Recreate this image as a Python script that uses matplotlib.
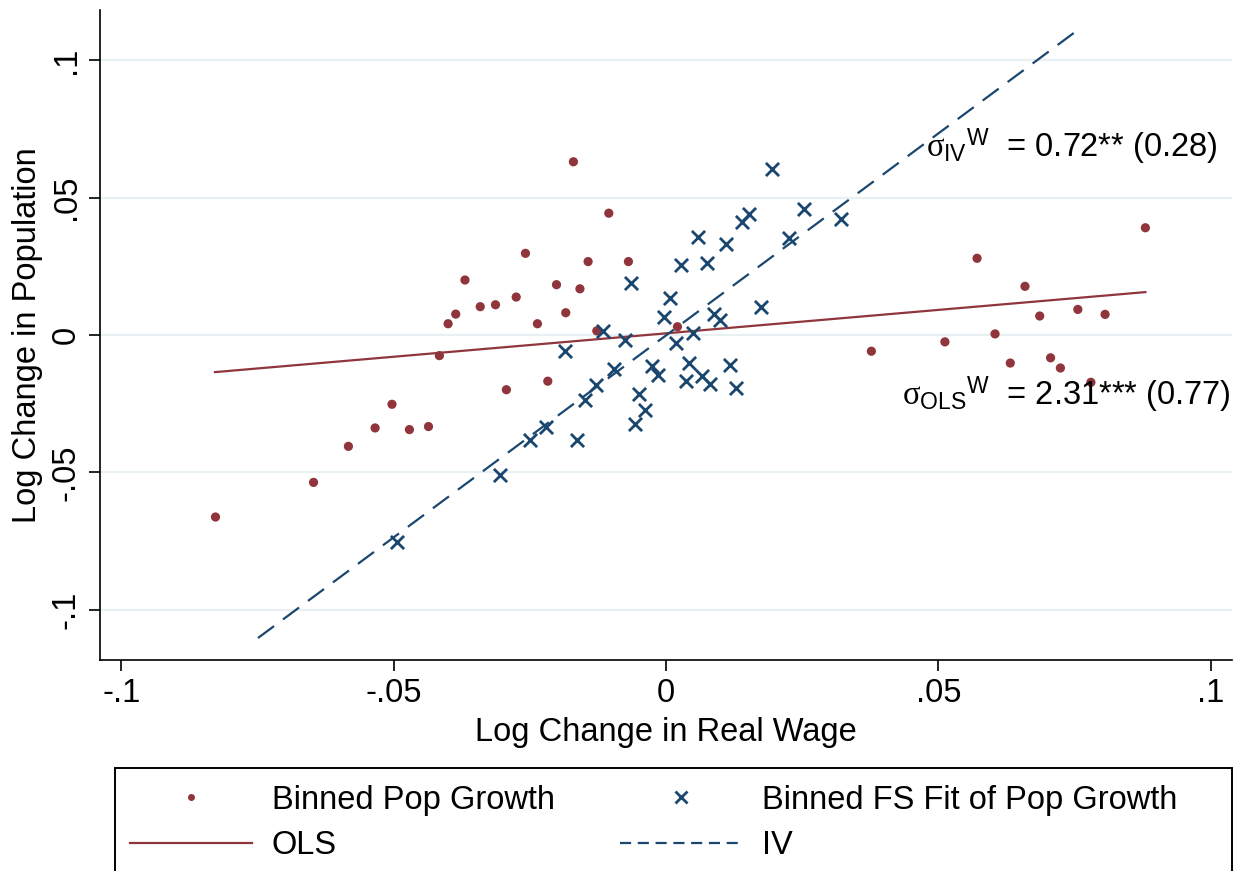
import numpy as np
import matplotlib
matplotlib.use("Agg")
import matplotlib.pyplot as plt
from matplotlib.lines import Line2D
from matplotlib.patches import Rectangle

plt.rcParams['font.family'] = ['Liberation Sans', 'DejaVu Sans']
plt.rcParams['mathtext.fontset'] = 'custom'
plt.rcParams['mathtext.rm'] = 'Liberation Sans'
plt.rcParams['mathtext.it'] = 'Liberation Serif'

# binned population growth (x = log change real wage, y = log change population)
pop_x = [-0.0827, -0.0647, -0.0583, -0.0534, -0.0503, -0.0471, -0.0436, -0.0416,
         -0.0400, -0.0386, -0.0369, -0.0341, -0.0313, -0.0293, -0.0275, -0.0258,
         -0.0236, -0.0217, -0.0201, -0.0184, -0.0170, -0.0158, -0.0143, -0.0127,
         -0.0105, -0.0069, 0.0021, 0.0377, 0.0512, 0.0571, 0.0604, 0.0632,
         0.0659, 0.0686, 0.0706, 0.0724, 0.0756, 0.0780, 0.0806, 0.0880]
pop_y = [-0.0662, -0.0536, -0.0405, -0.0338, -0.0252, -0.0344, -0.0333, -0.0075,
         0.0041, 0.0076, 0.0200, 0.0103, 0.0110, -0.0199, 0.0138, 0.0297,
         0.0041, -0.0168, 0.0183, 0.0081, 0.0630, 0.0168, 0.0267, 0.0015,
         0.0443, 0.0267, 0.0030, -0.0059, -0.0025, 0.0279, 0.0004, -0.0102,
         0.0177, 0.0069, -0.0083, -0.0120, 0.0093, -0.0172, 0.0075, 0.0390]

# binned first-stage fit of population growth
fs_x = [-0.0493, -0.0305, -0.0250, -0.0220, -0.0163, -0.0186, -0.0148, -0.0129,
        -0.0115, -0.0096, -0.0076, -0.0064, -0.0056, -0.0049, -0.0039, -0.0026,
        -0.0014, -0.0003, 0.0008, 0.0019, 0.0028, 0.0037, 0.0043, 0.0050,
        0.0058, 0.0066, 0.0075, 0.0081, 0.0089, 0.0099, 0.0110, 0.0118,
        0.0128, 0.0139, 0.0153, 0.0175, 0.0194, 0.0225, 0.0254, 0.0321]
fs_y = [-0.0754, -0.0509, -0.0382, -0.0334, -0.0382, -0.0058, -0.0235, -0.0182,
        0.0015, -0.0122, -0.0018, 0.0190, -0.0324, -0.0215, -0.0271, -0.0111,
        -0.0146, 0.0064, 0.0135, -0.0028, 0.0255, -0.0167, -0.0102, 0.0006,
        0.0355, -0.0150, 0.0261, -0.0180, 0.0077, 0.0055, 0.0330, -0.0110,
        -0.0191, 0.0410, 0.0440, 0.0102, 0.0604, 0.0351, 0.0458, 0.0421]

# fitted lines (end points)
ols_x = [-0.0828, 0.0880]
ols_y = [-0.0135, 0.0156]
iv_x = [-0.0749, 0.0751]
iv_y = [-0.1102, 0.1102]

xticks = [-0.1, -0.05, 0, 0.05, 0.1]
xticklabels = ['-.1', '-.05', '0', '.05', '.1']
yticks = [-0.1, -0.05, 0, 0.05, 0.1]
yticklabels = ['-.1', '-.05', '0', '.05', '.1']

navy = '#1a476f'
maroon = '#90353b'
fs = 23.5

fig = plt.figure(figsize=(12.36, 8.71), dpi=100)
ax = fig.add_axes([100 / 1236, 1 - 660 / 871, 1132 / 1236, 650 / 871])

for t in yticks:
    ax.axhline(t, color='#e8f0f3', lw=1.6, zorder=0)

ax.plot(ols_x, ols_y, color=maroon, lw=1.6, zorder=2)
ax.plot(iv_x, iv_y, color=navy, lw=1.6, dashes=(9, 5), zorder=2)
ax.scatter(pop_x, pop_y, s=44, color=maroon, edgecolors='none', zorder=3)
ax.scatter(fs_x, fs_y, s=90, marker='x', color=navy, linewidths=2.0, zorder=3)

ax.text(0.1013, 0.0685, r'$\sigma_{\mathrm{IV}}{}^{\mathrm{W}}$  = 0.72** (0.28)',
        fontsize=23.5, va='center', ha='right')
ax.text(0.1036, -0.0218, r'$\sigma_{\mathrm{OLS}}{}^{\mathrm{W}}$  = 2.31*** (0.77)',
        fontsize=23.5, va='center', ha='right')

ax.set_xlim(-0.1039, 0.1039)
ax.set_ylim(-0.1182, 0.1182)
ax.set_xticks(xticks)
ax.set_xticklabels(xticklabels)
ax.set_yticks(yticks)
ax.set_yticklabels(yticklabels, rotation=90, va='center')
ax.tick_params(axis='both', length=8, width=1.2, labelsize=fs, pad=5)
ax.set_xlabel('Log Change in Real Wage', fontsize=fs, labelpad=6)
ax.set_ylabel('Log Change in Population', fontsize=fs, labelpad=6)
for side in ['top', 'right']:
    ax.spines[side].set_visible(False)
for side in ['left', 'bottom']:
    ax.spines[side].set_linewidth(1.2)

handles = [
    Line2D([], [], ls='none', marker='o', ms=4, color=maroon),
    Line2D([], [], color=maroon, lw=1.6),
    Line2D([], [], ls='none', marker='x', ms=8, mew=2, color=navy),
    Line2D([], [], color=navy, lw=1.6, dashes=(5, 3)),
]
labels = ['Binned Pop Growth', 'OLS', 'Binned FS Fit of Pop Growth', 'IV']
leg = fig.legend(handles, labels, ncol=2, loc='upper left',
                 bbox_to_anchor=(115 / 1236, 1 - 770 / 871), fontsize=fs,
                 frameon=False, handlelength=3.75, handletextpad=0.6,
                 columnspacing=2.0, borderpad=0.45, labelspacing=0.45,
                 borderaxespad=0)
# legend frame runs past the bottom edge of the figure
fig.patches.append(Rectangle((115 / 1236, -0.05), (1232 - 115) / 1236,
                             (871 - 768) / 871 + 0.05, transform=fig.transFigure,
                             fill=False, ec='black', lw=1.4))

fig.savefig('out.png', dpi=100)
